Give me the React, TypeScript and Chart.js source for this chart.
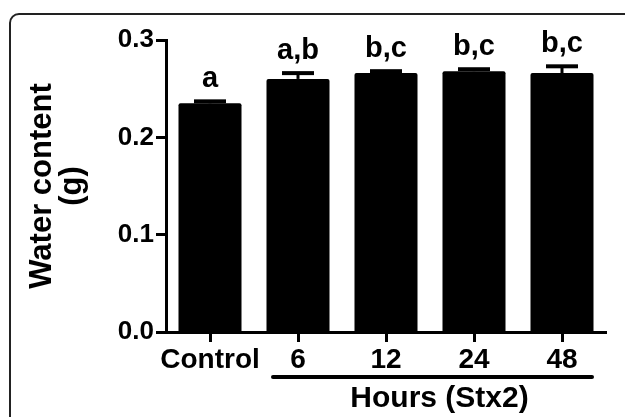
import React, { useEffect, useRef } from "react";
import { Chart, registerables } from "chart.js";

Chart.register(...registerables);

const categories = ["Control", "6", "12", "24", "48"];
const means = [0.235, 0.26, 0.266, 0.268, 0.266];
const errors = [0.003, 0.007, 0.003, 0.003, 0.008];
const letters = ["a", "a,b", "b,c", "b,c", "b,c"];
const yTicks = [0, 0.1, 0.2, 0.3];
const yTitle = ["Water content", "(g)"];
const groupLabel = "Hours (Stx2)";
const groupFrom = 1;
const groupTo = 4;

const FONT = "'Liberation Sans', Arial, Helvetica, sans-serif";

const decorPlugin = {
  id: "decor",
  beforeDraw(chart: any) {
    const ctx = chart.ctx;
    ctx.save();
    ctx.fillStyle = "#ffffff";
    ctx.fillRect(0, 0, chart.width, chart.height);
    // rounded frame
    ctx.strokeStyle = "#222222";
    ctx.lineWidth = 2;
    const x = 10, y = 14, r = 9;
    ctx.beginPath();
    ctx.moveTo(x, chart.height + 5);
    ctx.lineTo(x, y + r);
    ctx.arcTo(x, y, x + r, y, r);
    ctx.lineTo(chart.width + 5, y);
    ctx.stroke();
    ctx.restore();
  },
  afterDatasetsDraw(chart: any) {
    const ctx = chart.ctx;
    const meta = chart.getDatasetMeta(0);
    const yScale = chart.scales.y;
    const xScale = chart.scales.x;
    ctx.save();
    meta.data.forEach((bar: any, i: number) => {
      const top = yScale.getPixelForValue(means[i] + errors[i]);
      const bx = bar.x;
      ctx.strokeStyle = "#000";
      ctx.lineWidth = 3;
      ctx.beginPath();
      ctx.moveTo(bx, bar.y);
      ctx.lineTo(bx, top);
      ctx.stroke();
      ctx.lineWidth = 4;
      ctx.beginPath();
      ctx.moveTo(bx - 16, top + 1);
      ctx.lineTo(bx + 16, top + 1);
      ctx.stroke();
      ctx.fillStyle = "#000";
      ctx.font = `bold 29px ${FONT}`;
      ctx.textAlign = "center";
      ctx.textBaseline = "alphabetic";
      ctx.fillText(letters[i], bx, top - 13);
    });
    // group underline and label
    const gx1 = xScale.getPixelForValue(groupFrom) - 25;
    const gx2 = xScale.getPixelForValue(groupTo) + 30;
    const gy = 377;
    ctx.strokeStyle = "#000";
    ctx.lineWidth = 4;
    ctx.lineCap = "round";
    ctx.beginPath();
    ctx.moveTo(gx1, gy);
    ctx.lineTo(gx2, gy);
    ctx.stroke();
    ctx.fillStyle = "#000";
    ctx.font = `bold 30px ${FONT}`;
    ctx.textAlign = "center";
    ctx.textBaseline = "middle";
    ctx.fillText(groupLabel, (gx1 + gx2) / 2 + 7, 399);
    ctx.restore();
  },
};

export default function App() {
  const ref = useRef<HTMLCanvasElement | null>(null);
  useEffect(() => {
    document.body.style.margin = "0";
    const canvas = ref.current;
    if (!canvas) return;
    const chart = new Chart(canvas, {
      type: "bar",
      data: {
        labels: categories,
        datasets: [
          {
            data: means,
            backgroundColor: "#000000",
            borderWidth: 0,
            borderRadius: 2,
            barPercentage: 0.716,
            categoryPercentage: 1,
          },
        ],
      },
      options: {
        responsive: false,
        animation: false,
        devicePixelRatio: 1,
        layout: { padding: { top: 40, right: 19, bottom: 0, left: 0 } },
        plugins: {
          legend: { display: false },
          tooltip: { enabled: false },
        },
        scales: {
          x: {
            afterFit(scale: any) {
              scale.height = 85;
            },
            grid: {
              offset: false,
              drawOnChartArea: false,
              drawTicks: true,
              tickLength: 10,
              tickWidth: 3,
              tickColor: "#000",
            },
            border: { display: true, color: "#000", width: 3 },
            ticks: {
              color: "#000",
              font: { family: FONT, size: 28, weight: "bold" },
              padding: 1,
              maxRotation: 0,
              autoSkip: false,
            },
          },
          y: {
            min: 0,
            max: 0.3,
            afterFit(scale: any) {
              scale.width = 166;
            },
            afterBuildTicks(scale: any) {
              scale.ticks = yTicks.map((v) => ({ value: v }));
            },
            grid: {
              drawOnChartArea: false,
              drawTicks: true,
              tickLength: 10,
              tickWidth: 3,
              tickColor: "#000",
            },
            border: { display: true, color: "#000", width: 3 },
            ticks: {
              color: "#000",
              font: { family: FONT, size: 26, weight: "bold" },
              padding: 2,
              callback: (v: any) => Number(v).toFixed(1),
            },
            title: {
              display: true,
              text: yTitle,
              color: "#000",
              font: { family: FONT, size: 31, weight: "bold", lineHeight: "30px" },
              padding: { top: 27, bottom: 0 },
            },
          },
        },
      },
      plugins: [decorPlugin],
    });
    return () => chart.destroy();
  }, []);
  return (
    <div style={{ width: 625, height: 417 }}>
      <canvas ref={ref} width={625} height={417} style={{ display: "block" }} />
    </div>
  );
}
